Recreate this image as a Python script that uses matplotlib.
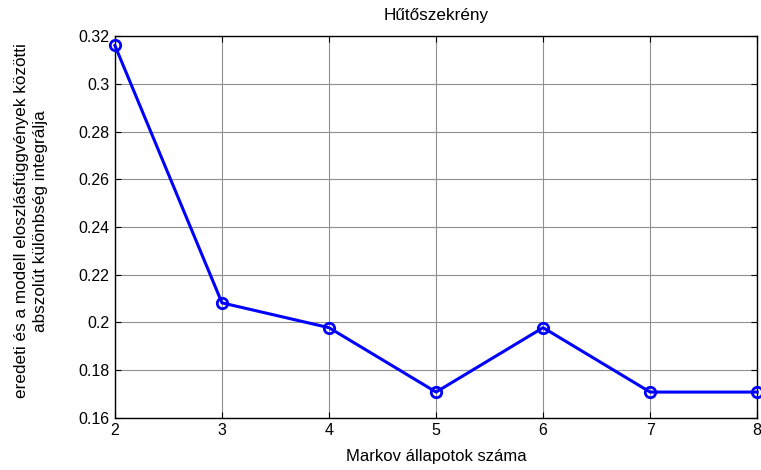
import matplotlib
matplotlib.use('agg')
import matplotlib.pyplot as plt

plt.rcParams['font.family'] = ['Liberation Sans', 'DejaVu Sans']
plt.rcParams['font.size'] = 11.5

# Markov-state count vs. integral of absolute difference of CDFs
n_states = [2, 3, 4, 5, 6, 7, 8]
diff_integral = [0.3161, 0.2082, 0.1978, 0.1708, 0.1978, 0.1708, 0.1708]
y_ticks = [0.16, 0.18, 0.2, 0.22, 0.24, 0.26, 0.28, 0.3, 0.32]
y_tick_labels = ['0.16', '0.18', '0.2', '0.22', '0.24', '0.26', '0.28', '0.3', '0.32']

fig = plt.figure(figsize=(7.61, 4.70), dpi=100)
ax = fig.add_axes([0.151, 0.111, 0.844, 0.812])

ax.plot(n_states, diff_integral, color='#0000ff', linewidth=2.2,
        marker='o', markersize=7.5, markerfacecolor='none',
        markeredgewidth=2.0, markeredgecolor='#0000ff', clip_on=False, zorder=3)

ax.set_xlim(2, 8)
ax.set_ylim(0.16, 0.32)
ax.set_xticks(n_states)
ax.set_yticks(y_ticks)
ax.set_yticklabels(y_tick_labels)
ax.grid(True, color='#909090', linewidth=0.8, linestyle='-')
ax.set_axisbelow(True)
ax.tick_params(direction='in', top=True, right=True, length=4, width=0.8,
               labelsize=11.5, colors='black', pad=4)
for s in ax.spines.values():
    s.set_linewidth(1.0)
    s.set_color('black')

ax.set_title('Hűtőszekrény', fontsize=12.3, pad=12)
ax.set_xlabel('Markov állapotok száma', fontsize=12, labelpad=8)
ax.set_ylabel('eredeti és a modell eloszlásfüggvények közötti\n'
              'abszolút különbség integrálja', fontsize=12.3, labelpad=22,
              linespacing=1.3)
ax.yaxis.label.set_y(0.516)

fig.savefig('out.png', dpi=100, facecolor='white')
